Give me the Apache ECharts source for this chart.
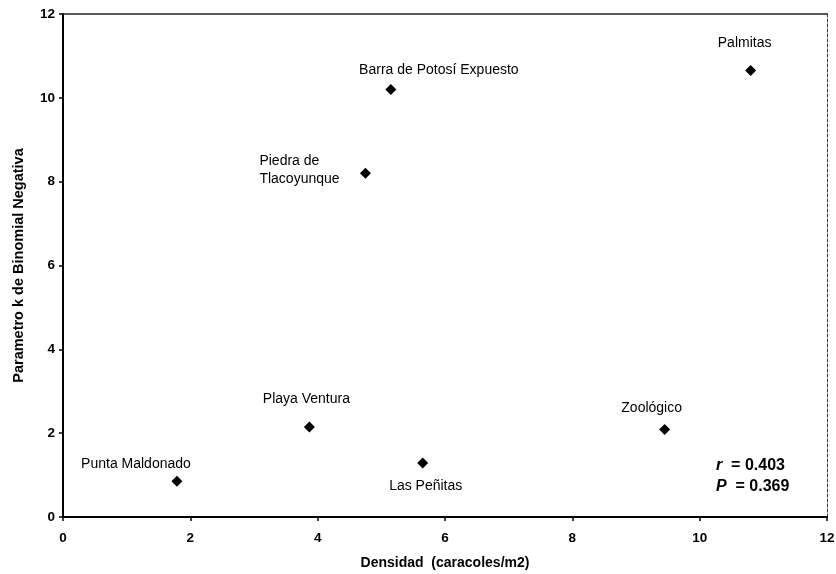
<!DOCTYPE html>
<html>
<head>
<meta charset="utf-8">
<script src="https://cdn.jsdelivr.net/npm/echarts@6/dist/echarts.min.js"></script>
<style>
html,body{margin:0;padding:0;background:#fff;}
#chart{width:836px;height:574px;}
</style>
</head>
<body>
<div id="chart"></div>
<script>
// Data
const sites = ['Punta Maldonado', 'Playa Ventura', 'Las Peñitas', 'Zoológico', 'Piedra de\nTlacoyunque', 'Barra de Potosí Expuesto', 'Palmitas'];
const density = [1.79, 3.87, 5.65, 9.45, 4.75, 5.15, 10.8];
const kParam = [0.85, 2.15, 1.29, 2.09, 8.2, 10.2, 10.65];
const xTicks = [0, 2, 4, 6, 8, 10, 12];
const yTicks = [0, 2, 4, 6, 8, 10, 12];
const stats = { r: '0.403', P: '0.369' };

// label placement (style only)
const labelLayout = {
  'Punta Maldonado': { offset: [-41, -17], align: 'center' },
  'Playa Ventura': { offset: [-3, -28], align: 'center' },
  'Las Peñitas': { offset: [3, 23], align: 'center' },
  'Zoológico': { offset: [-13, -21], align: 'center' },
  'Piedra de\nTlacoyunque': { offset: [-106, -3], align: 'left' },
  'Barra de Potosí Expuesto': { offset: [48, -19], align: 'center' },
  'Palmitas': { offset: [-6, -27], align: 'center' }
};

const points = sites.map((s, i) => {
  const l = labelLayout[s];
  return {
    name: s,
    value: [density[i], kParam[i]],
    label: { offset: l.offset, align: l.align }
  };
});

const font = 'Liberation Sans, Arial, sans-serif';
const chart = echarts.init(document.getElementById('chart'));
chart.setOption({
  animation: false,
  backgroundColor: '#fff',
  grid: { left: 63, right: 9, top: 14, bottom: 57, containLabel: false, outerBoundsMode: 'none' },
  xAxis: [{
    type: 'value', min: xTicks[0], max: xTicks[xTicks.length - 1], interval: 2,
    name: 'Densidad  (caracoles/m2)', nameLocation: 'middle', nameGap: 39,
    nameTextStyle: { fontFamily: font, fontWeight: 'bold', fontSize: 14, color: '#000' },
    axisLine: { show: true, onZero: false, lineStyle: { color: '#000', width: 2 } },
    axisTick: { show: true, length: 4, lineStyle: { color: '#000', width: 1.5 } },
    axisLabel: { fontFamily: font, fontWeight: 'bold', fontSize: 13.5, color: '#000', margin: 14 },
    splitLine: { show: false }
  }, {
    type: 'value', position: 'top', min: xTicks[0], max: xTicks[xTicks.length - 1],
    axisLine: { show: true, onZero: false, lineStyle: { color: '#222', width: 1.5 } },
    axisTick: { show: false }, axisLabel: { show: false }, splitLine: { show: false }
  }],
  yAxis: [{
    type: 'value', min: yTicks[0], max: yTicks[yTicks.length - 1], interval: 2,
    name: 'Parametro k de Binomial Negativa', nameLocation: 'middle', nameGap: 37,
    nameTextStyle: { fontFamily: font, fontWeight: 'bold', fontSize: 14.5, color: '#000' },
    axisLine: { show: true, onZero: false, lineStyle: { color: '#000', width: 2 } },
    axisTick: { show: true, length: 4, lineStyle: { color: '#000', width: 1.5 } },
    axisLabel: { fontFamily: font, fontWeight: 'bold', fontSize: 13.5, color: '#000', margin: 8 },
    splitLine: { show: false }
  }, {
    type: 'value', position: 'right', min: yTicks[0], max: yTicks[yTicks.length - 1],
    axisLine: { show: true, onZero: false, lineStyle: { color: '#333', width: 1, type: [3, 2] } },
    axisTick: { show: false }, axisLabel: { show: false }, splitLine: { show: false }
  }],
  series: [{
    type: 'scatter',
    symbol: 'diamond',
    symbolSize: 11,
    itemStyle: { color: '#000', opacity: 1 },
    data: points,
    label: {
      show: true,
      position: 'inside',
      formatter: p => p.name,
      fontFamily: font,
      fontSize: 14,
      color: '#000',
      verticalAlign: 'middle',
      lineHeight: 18
    }
  }],
  graphic: [{
    type: 'text',
    left: 716,
    top: 455,
    style: {
      text: '{i|r}  = ' + stats.r + '\n{i|P}  = ' + stats.P,
      font: 'bold 16px ' + font,
      fill: '#000',
      lineHeight: 21,
      rich: {
        i: { fontStyle: 'italic', fontWeight: 'bold', fontSize: 16, fontFamily: font, fill: '#000' }
      }
    }
  }]
});
</script>
</body>
</html>
